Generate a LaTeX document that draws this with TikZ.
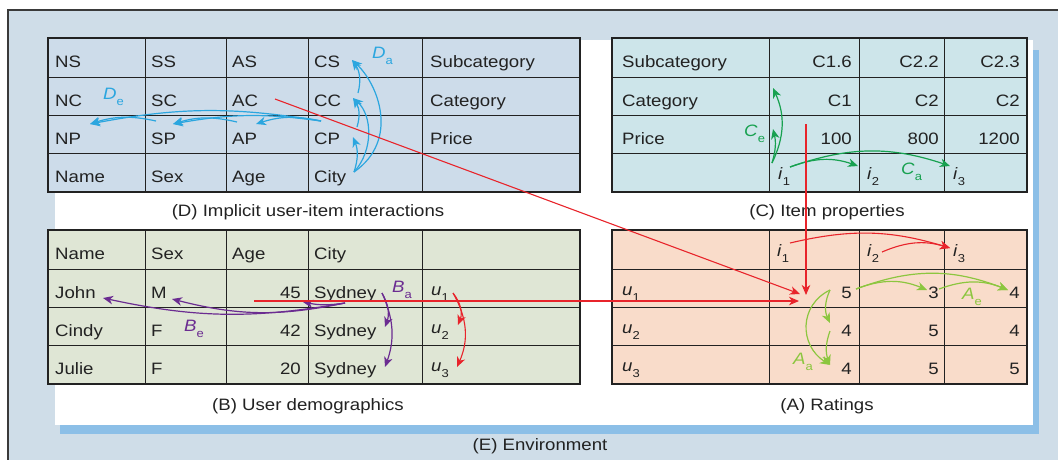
\documentclass[tikz,border=0pt]{standalone}
\usepackage{fontspec}
\setmainfont{Liberation Sans}[FakeStretch=1.13]
\usetikzlibrary{arrows.meta}

\definecolor{envfill}{HTML}{CFDDE8}
\definecolor{envline}{HTML}{3A3A3A}
\definecolor{shadowblue}{HTML}{8CBFE7}
\definecolor{dfill}{HTML}{CDDCEA}
\definecolor{cfill}{HTML}{CDE5EA}
\definecolor{bfill}{HTML}{DFE6D5}
\definecolor{afill}{HTML}{F9DCCA}
\definecolor{tabline}{HTML}{222222}
\definecolor{dblue}{HTML}{2BA6DF}
\definecolor{cgreen}{HTML}{17A150}
\definecolor{agreen}{HTML}{8CC63F}
\definecolor{bpurple}{HTML}{6B2C91}
\definecolor{rred}{HTML}{E8242B}

\newcommand\cellfont{\fontsize{16.5}{19}\selectfont}
\newcommand\isub[2]{\textit{#1}\raisebox{-6.5pt}{\fontsize{11.5}{12}\selectfont #2}}

\begin{document}
\begin{tikzpicture}[x=1pt,y=-1pt,
    txt/.style={anchor=base west, inner sep=0pt, font=\cellfont, text=tabline},
    rtxt/.style={anchor=base east, inner sep=0pt, font=\cellfont, text=tabline},
    captxt/.style={anchor=base, inner sep=0pt, font=\cellfont, text=tabline},
    gridline/.style={line width=0.9pt, tabline},
    tabframe/.style={line width=2.6pt, tabline},
    arrtip/.style={-{Stealth[length=10pt,width=8.5pt,inset=3pt]}},
    arrD/.style={arrtip, line width=1.2pt, dblue},
    arrC/.style={arrtip, line width=1.2pt, cgreen},
    arrA/.style={arrtip, line width=1.2pt, agreen},
    arrB/.style={arrtip, line width=1.2pt, bpurple},
    arrR/.style={arrtip, line width=1.1pt, rred}]

    \useasboundingbox (0,0) rectangle (1058,459);

    % environment and panel
    \fill[envfill] (8,10) rectangle (1070,470);
    \draw[envline, line width=1.6pt] (1070,10) -- (8,10) -- (8,470);
    \fill[shadowblue] (60,50) rectangle (1039,434);
    \fill[white] (55,40) rectangle (1033,425);

    % tables
    \fill[dfill] (48,38) rectangle (580,192);
    \foreach \x in {145,226,308,422} \draw[gridline] (\x,38) -- (\x,192);
    \foreach \y in {77,115,153} \draw[gridline] (48,\y) -- (580,\y);
    \draw[tabframe] (48,38) rectangle (580,192);

    \fill[cfill] (612,38) rectangle (1027,192);
    \foreach \x in {769,859,944} \draw[gridline] (\x,38) -- (\x,192);
    \foreach \y in {77,115,153} \draw[gridline] (612,\y) -- (1027,\y);
    \draw[tabframe] (612,38) rectangle (1027,192);

    \fill[bfill] (48,230) rectangle (580,384);
    \foreach \x in {145,226,308,422} \draw[gridline] (\x,230) -- (\x,384);
    \foreach \y in {269,307,345} \draw[gridline] (48,\y) -- (580,\y);
    \draw[tabframe] (48,230) rectangle (580,384);

    \fill[afill] (612,230) rectangle (1027,384);
    \foreach \x in {769,859,944} \draw[gridline] (\x,230) -- (\x,384);
    \foreach \y in {269,307,345} \draw[gridline] (612,\y) -- (1027,\y);
    \draw[tabframe] (612,230) rectangle (1027,384);

    % (D) implicit interactions
    \node[txt] (d-ns) at (55,67.5) {NS};
    \node[txt] (d-ss) at (151,67.5) {SS};
    \node[txt] (d-as) at (232,67.5) {AS};
    \node[txt] (d-cs) at (314,67.5) {CS};
    \node[txt] (d-sub) at (430,67.5) {Subcategory};
    \node[txt] (d-nc) at (55,106) {NC};
    \node[txt] (d-sc) at (151,106) {SC};
    \node[txt] (d-ac) at (232,106) {AC};
    \node[txt] (d-cc) at (314,106) {CC};
    \node[txt] (d-cat) at (430,106) {Category};
    \node[txt] (d-np) at (55,144) {NP};
    \node[txt] (d-sp) at (151,144) {SP};
    \node[txt] (d-ap) at (232,144) {AP};
    \node[txt] (d-cp) at (314,144) {CP};
    \node[txt] (d-pri) at (430,144) {Price};
    \node[txt] (d-name) at (55,182.5) {Name};
    \node[txt] (d-sex) at (151,182.5) {Sex};
    \node[txt] (d-age) at (232,182.5) {Age};
    \node[txt] (d-city) at (314,182.5) {City};

    % (C) item properties
    \node[txt] (c-sub) at (622,67.5) {Subcategory};
    \node[rtxt] (c-s1) at (852,67.5) {C1.6};
    \node[rtxt] (c-s2) at (939,67.5) {C2.2};
    \node[rtxt] (c-s3) at (1020,67.5) {C2.3};
    \node[txt] (c-cat) at (622,106) {Category};
    \node[rtxt] (c-c1) at (852,106) {C1};
    \node[rtxt] (c-c2) at (939,106) {C2};
    \node[rtxt] (c-c3) at (1020,106) {C2};
    \node[txt] (c-pri) at (622,144) {Price};
    \node[rtxt] (c-p1) at (852,144) {100};
    \node[rtxt] (c-p2) at (939,144) {800};
    \node[rtxt] (c-p3) at (1020,144) {1200};
    \node[txt] (c-i1) at (778,179) {\isub{i}{1}};
    \node[txt] (c-i2) at (867,179) {\isub{i}{2}};
    \node[txt] (c-i3) at (953,179) {\isub{i}{3}};

    % (B) user demographics
    \node[txt] (b-name) at (55,259.5) {Name};
    \node[txt] (b-sex) at (151,259.5) {Sex};
    \node[txt] (b-age) at (232,259.5) {Age};
    \node[txt] (b-city) at (314,259.5) {City};
    \node[txt] (b-john) at (55,298) {John};
    \node[txt] (b-m) at (151,298) {M};
    \node[rtxt] (b-45) at (301,298) {45};
    \node[txt] (b-syd1) at (314,298) {Sydney};
    \node[txt] (b-u1) at (431,295) {\isub{u}{1}};
    \node[txt] (b-cindy) at (55,336.5) {Cindy};
    \node[txt] (b-f1) at (151,336.5) {F};
    \node[rtxt] (b-42) at (301,336.5) {42};
    \node[txt] (b-syd2) at (314,336.5) {Sydney};
    \node[txt] (b-u2) at (431,333) {\isub{u}{2}};
    \node[txt] (b-julie) at (55,374.5) {Julie};
    \node[txt] (b-f2) at (151,374.5) {F};
    \node[rtxt] (b-20) at (301,374.5) {20};
    \node[txt] (b-syd3) at (314,374.5) {Sydney};
    \node[txt] (b-u3) at (431,371) {\isub{u}{3}};

    % (A) ratings
    \node[txt] (a-i1) at (777,256) {\isub{i}{1}};
    \node[txt] (a-i2) at (867,256) {\isub{i}{2}};
    \node[txt] (a-i3) at (953,256) {\isub{i}{3}};
    \node[txt] (a-u1) at (622,295) {\isub{u}{1}};
    \node[rtxt] (a-11) at (852,298) {5};
    \node[rtxt] (a-12) at (939,298) {3};
    \node[rtxt] (a-13) at (1020,298) {4};
    \node[txt] (a-u2) at (622,333) {\isub{u}{2}};
    \node[rtxt] (a-21) at (852,336.5) {4};
    \node[rtxt] (a-22) at (939,336.5) {5};
    \node[rtxt] (a-23) at (1020,336.5) {4};
    \node[txt] (a-u3) at (622,371) {\isub{u}{3}};
    \node[rtxt] (a-31) at (852,374.5) {4};
    \node[rtxt] (a-32) at (939,374.5) {5};
    \node[rtxt] (a-33) at (1020,374.5) {5};

    % captions
    \node[captxt] (d-caption) at (308,216.5) {(D) Implicit user-item interactions};
    \node[captxt] (c-caption) at (827,216.5) {(C) Item properties};
    \node[captxt] (b-caption) at (308,410) {(B) User demographics};
    \node[captxt] (a-caption) at (827,410) {(A) Ratings};
    \node[captxt] (e-caption) at (540,450) {(E) Environment};

    % coupling labels
    \node[txt, text=dblue] (d-lbl-e) at (103,99) {\isub{D}{e}};
    \node[txt, text=dblue] (d-lbl-a) at (372,58) {\isub{D}{a}};
    \node[txt, text=cgreen] (c-lbl-e) at (744,136) {\isub{C}{e}};
    \node[txt, text=cgreen] (c-lbl-a) at (901,174) {\isub{C}{a}};
    \node[txt, text=bpurple] (b-lbl-a) at (392,292) {\isub{B}{a}};
    \node[txt, text=bpurple] (b-lbl-e) at (184,331) {\isub{B}{e}};
    \node[txt, text=agreen] (a-lbl-e) at (962,299) {\isub{A}{e}};
    \node[txt, text=agreen] (a-lbl-a) at (793,364) {\isub{A}{a}};

    % arrow ends
    \coordinate (d-cp-l) at (321,121);
    \coordinate (d-ap-h) at (256,124);
    \coordinate (d-ap-l) at (237,122);
    \coordinate (d-sp-h) at (173,124);
    \coordinate (d-sp-l) at (156,121);
    \coordinate (d-np-h) at (90,124);
    \coordinate (d-city-u) at (354,172);
    \coordinate (d-cp-h) at (353,137);
    \coordinate (d-cp-u) at (357,127);
    \coordinate (d-cc-h) at (353,98);
    \coordinate (d-cc-u) at (358,93);
    \coordinate (d-cs-h) at (352,60);

    \coordinate (c-i1-u) at (772,163);
    \coordinate (c-pri-h) at (773,129);
    \coordinate (c-cat-h) at (773,88);
    \coordinate (c-i1-r) at (790,167);
    \coordinate (c-i2-h) at (858,166);
    \coordinate (c-i3-h) at (950,166);

    \coordinate (b-syd-l) at (345,303);
    \coordinate (b-45-h) at (303,302);
    \coordinate (b-m-h) at (172,299);
    \coordinate (b-john-h) at (103,298);
    \coordinate (b-syd-d) at (382,293);
    \coordinate (b-syd2-h) at (385,327);
    \coordinate (b-syd3-h) at (385,367);
    \coordinate (b-u1-d) at (453,293);
    \coordinate (b-u2-h) at (458,325);
    \coordinate (b-u3-h) at (457,367);

    \coordinate (a-i1-r) at (790,243);
    \coordinate (a-i2-r) at (882,252);
    \coordinate (a-i3-h) at (950,248);
    \coordinate (a-11-r) at (856,289);
    \coordinate (a-12-h) at (927,290);
    \coordinate (a-12-r) at (939,289);
    \coordinate (a-13-h) at (1008,290);
    \coordinate (a-11-d) at (830,290);
    \coordinate (a-21-h) at (830,323);
    \coordinate (a-21-d) at (830,331);
    \coordinate (a-31-h) at (830,365);

    \coordinate (d-ac-r) at (275,99);
    \coordinate (c-pri-d) at (806,124);
    \coordinate (b-age-r) at (254,301);
    \coordinate (a-11-dg) at (800,294);
    \coordinate (a-11-v) at (806,295);
    \coordinate (a-11-hz) at (799,301);

    % D couplings
    \draw[arrD] (d-cp-l) to[bend right=15] (d-ap-h);
    \draw[arrD] (d-cp-l) to[bend right=9] (d-sp-h);
    \draw[arrD] (d-cp-l) to[bend right=10] (d-np-h);
    \draw[arrD] (d-ap-l) to[bend right=15] (d-sp-h);
    \draw[arrD] (d-sp-l) to[bend right=15] (d-np-h);
    \draw[arrD] (d-city-u) to[bend right=20] (d-cp-h);
    \draw[arrD] (d-city-u) .. controls (374,150) and (372,115) .. (d-cc-h);
    \draw[arrD] (d-city-u) .. controls (400,140) and (378,84) .. (d-cs-h);
    \draw[arrD] (d-cp-u) to[bend right=25] (d-cc-h);
    \draw[arrD] (d-cc-u) to[bend right=25] (d-cs-h);

    % C couplings
    \draw[arrC] (c-i1-u) to[bend right=15] (c-pri-h);
    \draw[arrC] (c-i1-u) to[bend right=25] (c-cat-h);
    \draw[arrC] (c-i1-r) to[bend left=20] (c-i2-h);
    \draw[arrC] (c-i1-r) to[bend left=19] (c-i3-h);

    % B couplings
    \draw[arrB] (b-syd-l) to[bend left=10] (b-45-h);
    \draw[arrB] (b-syd-l) to[bend left=13] (b-m-h);
    \draw[arrB] (b-syd-l) to[bend left=11] (b-john-h);
    \draw[arrB] (b-syd-d) to[bend left=25] (b-syd2-h);
    \draw[arrB] (b-syd-d) to[bend left=22] (b-syd3-h);
    \draw[arrR] (b-u1-d) to[bend left=30] (b-u2-h);
    \draw[arrR] (b-u1-d) to[bend left=27] (b-u3-h);

    % A couplings
    \draw[arrR] (a-i1-r) to[bend left=15] (a-i3-h);
    \draw[arrR] (a-i2-r) to[bend left=20] (a-i3-h);
    \draw[arrA] (a-11-r) to[bend left=22] (a-12-h);
    \draw[arrA] (a-11-r) to[bend left=21] (a-13-h);
    \draw[arrA] (a-12-r) to[bend left=21] (a-13-h);
    \draw[arrA] (a-11-d) to[bend right=25] (a-21-h);
    \draw[arrA] (a-21-d) to[bend right=20] (a-31-h);
    \draw[arrA] (a-11-d) .. controls (799,305) and (799,345) .. (a-31-h);

    % into the ratings
    \draw[arrR] (d-ac-r) -- (a-11-dg);
    \draw[arrR] (c-pri-d) -- (a-11-v);
    \draw[arrR] (b-age-r) -- (a-11-hz);

\end{tikzpicture}
\end{document}
